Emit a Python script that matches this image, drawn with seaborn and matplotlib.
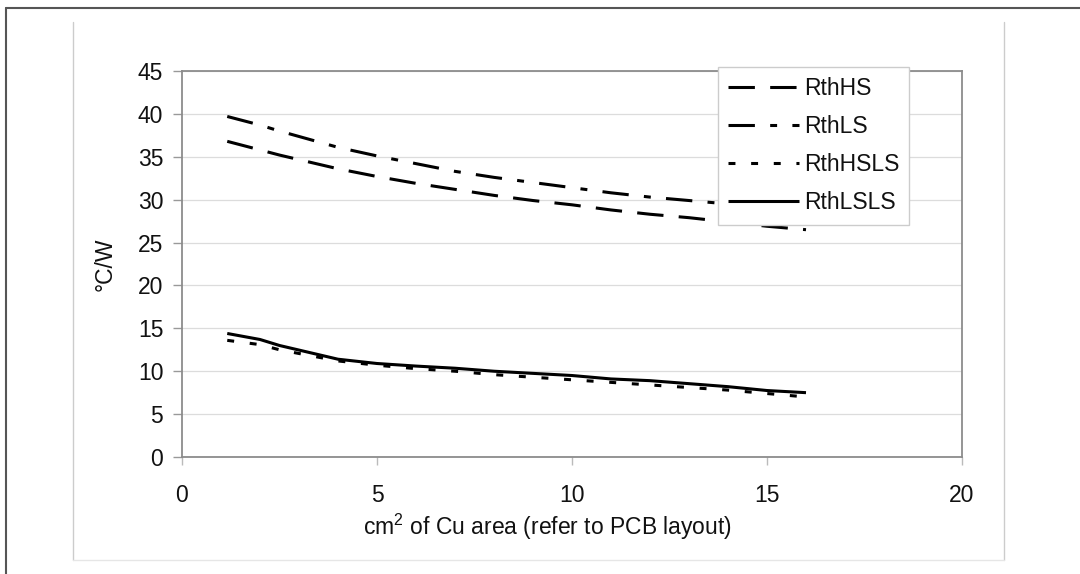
import matplotlib
matplotlib.use("Agg")
import matplotlib.pyplot as plt
import seaborn as sns
import pandas as pd
from matplotlib.lines import Line2D

# ---- data ----
area = [1.16, 2.0, 2.5, 4.0, 5.0, 6.0, 7.0, 8.0, 9.0, 10.0, 11.0, 12.0, 13.0, 14.0, 15.0, 16.0]
rth_hs = [36.8, 35.8, 35.2, 33.6, 32.7, 31.9, 31.2, 30.5, 29.9, 29.4, 28.8, 28.3, 27.9, 27.4, 26.9, 26.5]
rth_ls = [39.7, 38.7, 38.0, 36.1, 35.1, 34.2, 33.3, 32.6, 32.0, 31.4, 30.8, 30.3, 29.9, 29.5, 29.0, 28.6]
rth_hsls = [13.6, 13.1, 12.5, 11.2, 10.7, 10.3, 10.0, 9.6, 9.3, 9.0, 8.7, 8.4, 8.1, 7.8, 7.4, 7.0]
rth_lsls = [14.4, 13.7, 13.0, 11.4, 10.9, 10.6, 10.35, 10.0, 9.75, 9.5, 9.1, 8.9, 8.55, 8.2, 7.75, 7.5]
series_names = ["RthHS", "RthLS", "RthHSLS", "RthLSLS"]
y_ticks = [0, 5, 10, 15, 20, 25, 30, 35, 40, 45]
x_ticks = [0, 5, 10, 15, 20]
x_label = "cm$\\mathregular{^2}$ of Cu area (refer to PCB layout)"
y_label = "\u00b0C/W"

FS = 16.5

sns.set_theme(style="white")
plt.rcParams["font.family"] = ["Liberation Sans", "DejaVu Sans"]
plt.rcParams["mathtext.fontset"] = "custom"
plt.rcParams["mathtext.rm"] = "Liberation Sans"
plt.rcParams["mathtext.it"] = "Liberation Sans:italic"
plt.rcParams["mathtext.bf"] = "Liberation Sans:bold"
plt.rcParams["lines.scale_dashes"] = False

fig = plt.figure(figsize=(10.8, 5.74), dpi=100)
ax = fig.add_axes([182 / 1080, 1 - 457 / 574, 780 / 1080, 386 / 574])

styles = {
    "RthHS": (0, (19, 11)),
    "RthLS": (0, (19, 11, 5, 11)),
    "RthHSLS": (0, (5, 11.3)),
    "RthLSLS": "-",
}
values = {"RthHS": rth_hs, "RthLS": rth_ls, "RthHSLS": rth_hsls, "RthLSLS": rth_lsls}

for name in series_names:
    df = pd.DataFrame({"x": area, "y": values[name]})
    sns.lineplot(data=df, x="x", y="y", ax=ax, color="black", lw=2.2,
                 linestyle=styles[name], label=name, solid_capstyle="butt",
                 dash_capstyle="butt")

ax.set_xlim(0, 20)
ax.set_ylim(0, 45)
ax.set_xticks(x_ticks)
ax.set_yticks(y_ticks)
ax.set_xticklabels([str(t) for t in x_ticks], fontsize=FS, color="#111111")
ax.set_yticklabels([str(t) for t in y_ticks], fontsize=FS, color="#111111")
ax.tick_params(axis="y", direction="out", length=6.5, width=1, color="#999999", pad=7, left=True)
ax.tick_params(axis="x", direction="out", length=6, width=1, color="#bbbbbb", pad=13.5, bottom=True)

ax.yaxis.grid(True, color="#dcdcdc", lw=0.9)
ax.xaxis.grid(False)
ax.set_axisbelow(True)
for s in ax.spines.values():
    s.set_visible(True)
    s.set_color("#8c8c8c")
    s.set_linewidth(1.3)

ax.set_xlabel(x_label, fontsize=FS, color="#111111")
ax.set_ylabel(y_label, fontsize=FS, color="#111111")
ax.xaxis.set_label_coords((547.5 - 182) / 780, (457 - 527) / 386)
ax.yaxis.set_label_coords((105 - 182) / 780, 0.5)
ax.xaxis.label.set_va("center")
ax.yaxis.label.set_va("center")

leg = ax.legend(loc="upper left", bbox_to_anchor=((718 - 182) / 780, (457 - 67) / 386),
                borderaxespad=0, frameon=True, fancybox=False, fontsize=FS,
                handlelength=3.1, handletextpad=0.2, labelspacing=0.66,
                borderpad=0.44)
leg.get_frame().set_edgecolor("#cccccc")
leg.get_frame().set_linewidth(1.0)
leg.get_frame().set_facecolor("white")
leg.get_frame().set_alpha(1)
for t in leg.get_texts():
    t.set_color("#111111")

# chart-area frame lines (light gray) and outer dark frame
fig.add_artist(Line2D([73 / 1080, 73 / 1080], [1 - 22 / 574, 1 - 560 / 574], color="#cccccc", lw=1))
fig.add_artist(Line2D([1004 / 1080, 1004 / 1080], [1 - 22 / 574, 1 - 560 / 574], color="#cccccc", lw=1))
fig.add_artist(Line2D([73 / 1080, 1004 / 1080], [1 - 560 / 574, 1 - 560 / 574], color="#e6e6e6", lw=1))
fig.add_artist(Line2D([6 / 1080, 6 / 1080], [1 - 8 / 574, 0], color="#555555", lw=1.5))
fig.add_artist(Line2D([6 / 1080, 1], [1 - 8 / 574, 1 - 8 / 574], color="#555555", lw=1.5))

fig.savefig("out.png", dpi=100, facecolor="white")
